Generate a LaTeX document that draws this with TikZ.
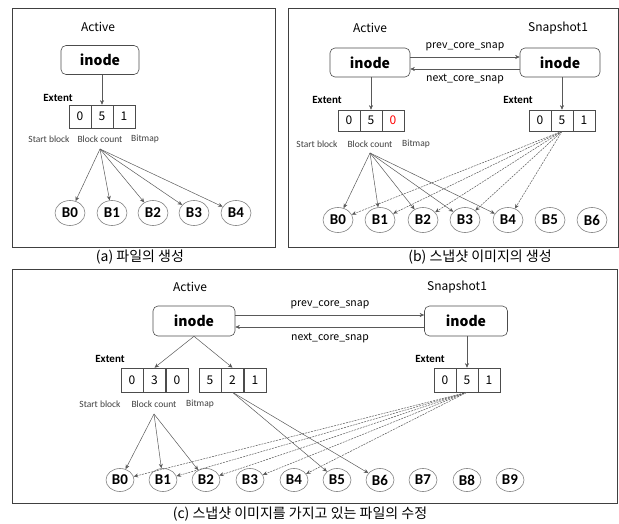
\documentclass[tikz,border=0pt]{standalone}
\usepackage{fontspec}
\setmainfont{Carlito}
\newfontfamily\krfont{Noto Sans CJK KR}
\usetikzlibrary{arrows.meta,shapes.geometric}

\tikzset{
  panel/.style={draw=black!75, line width=0.8pt},
  owner/.style={font=\krfont\fontsize{12}{12}\selectfont},
  inodebox/.style={draw=black!70, rounded corners=5pt, line width=0.6pt,
    minimum width=78pt, minimum height=29pt, inner sep=0pt,
    font=\krfont\bfseries\fontsize{14}{14}\selectfont},
  cell/.style={draw=black!70, line width=0.6pt, minimum width=22pt, minimum height=23pt,
    inner sep=0pt, font=\krfont\fontsize{12}{12}\selectfont},
  blk/.style={ellipse, draw=black!50, line width=0.6pt, minimum width=30pt,
    minimum height=25pt, inner sep=0pt, font=\bfseries\fontsize{15}{15}\selectfont},
  fieldlbl/.style={font=\fontsize{9.5}{10}\selectfont, text=black!75},
  extlbl/.style={font=\bfseries\fontsize{11}{11}\selectfont},
  linklbl/.style={font=\krfont\fontsize{10.5}{11}\selectfont},
  ptr/.style={draw=black!65, line width=0.5pt, -{Stealth[length=4.5pt,width=4pt]}},
  snapptr/.style={ptr, dash pattern=on 2pt off 1pt},
  captext/.style={font=\krfont\fontsize{14}{14}\selectfont},
}

\begin{document}
\begin{tikzpicture}[x=1pt,y=-1pt]
\useasboundingbox (0,0) rectangle (619,524);

% ---------------- (a) file creation ----------------
\draw[panel] (12,8) rectangle (275,247);
\node[owner] (aact) at (98,27) {Active};
\node[inodebox] (ai) at (100,60) {inode};
\node[extlbl] (aext) at (58,98) {Extent};
\node[cell] (a0) at (80,116.5) {0};
\node[cell] (a1) at (102,116.5) {5};
\node[cell] (a2) at (124,116.5) {1};
\draw[ptr] (a1.north |- ai.south) -- (a1.north);
\node[fieldlbl] (asb) at (49,139) {Start block};
\node[fieldlbl] (abc) at (100,139) {Block count};
\node[fieldlbl] (abm) at (145,139) {Bitmap};
\coordinate (afan) at (100,149);
\foreach \i/\x in {0/70,1/112,2/153,3/194,4/236}{
  \node[blk] (ab\i) at (\x,213) {B\i};
  \draw[ptr] (afan) -- (ab\i);
}
\node[captext] (acap) at (140,257) {(a) 파일의 생성};

% ---------------- (b) snapshot creation ----------------
\draw[panel] (288,8) rectangle (618,247);
\node[owner] (bact) at (370,28) {Active};
\node[owner] (bsnap) at (558,28) {Snapshot1};
\node[inodebox, minimum width=80pt] (bil) at (370,62.5) {inode};
\node[inodebox, minimum width=80pt] (bir) at (560,62.5) {inode};
\draw[ptr] ([yshift=5.5pt]bil.east) -- ([yshift=5.5pt]bir.west);
\draw[ptr] ([yshift=-6.5pt]bir.west) -- ([yshift=-6.5pt]bil.east);
\node[linklbl] (bprev) at (465,47) {prev\_core\_snap};
\node[linklbl] (bnext) at (465,79) {next\_core\_snap};
\node[extlbl] (bextl) at (327,100) {Extent};
\node[cell, minimum height=21pt] (bl0) at (349,120.5) {0};
\node[cell, minimum height=21pt] (bl1) at (371,120.5) {5};
\node[cell, minimum height=21pt, text=red] (bl2) at (393,120.5) {0};
\node[extlbl] (bextr) at (518,100) {Extent};
\node[cell, minimum height=21pt] (br0) at (540,120.5) {0};
\node[cell, minimum height=21pt] (br1) at (562,120.5) {5};
\node[cell, minimum height=21pt] (br2) at (584,120.5) {1};
\draw[ptr] (bl1.north |- bil.south) -- (bl1.north);
\draw[ptr] (br1.north |- bir.south) -- (br1.north);
\node[fieldlbl] (bsb) at (317,144) {Start block};
\node[fieldlbl] (bbc) at (370,144) {Block count};
\node[fieldlbl] (bbm) at (416,144) {Bitmap};
\coordinate (bfan) at (370,153);
\foreach \i/\x in {0/338,1/380,2/423,3/465,4/508,5/550,6/592}{
  \node[blk] (bb\i) at (\x,220) {B\i};
}
\foreach \i in {0,...,4}{
  \draw[ptr] (bfan) -- (bb\i);
  \draw[snapptr] (br1.south) -- (bb\i);
}
\node[captext] (bcap) at (480,257) {(b) 스냅샷 이미지의 생성};

% ---------------- (c) modifying a file that has a snapshot ----------------
\draw[panel] (12,269) rectangle (617,503);
\node[owner] (cact) at (190,287) {Active};
\node[owner] (csnap) at (457,287) {Snapshot1};
\node[inodebox, minimum width=82pt, minimum height=30pt] (cil) at (194,321) {inode};
\node[inodebox, minimum width=83pt, minimum height=30pt] (cir) at (466,321) {inode};
\draw[ptr] ([yshift=6pt]cil.east) -- ([yshift=6pt]cir.west);
\draw[ptr] ([yshift=-6pt]cir.west) -- ([yshift=-6pt]cil.east);
\node[linklbl] (cprev) at (330,305) {prev\_core\_snap};
\node[linklbl] (cnext) at (330,338) {next\_core\_snap};
\node[extlbl] (cextl) at (110,359) {Extent};
\node[cell, minimum height=24pt] (c00) at (132,380) {0};
\node[cell, minimum height=24pt] (c01) at (154.5,380) {3};
\node[cell, minimum height=24pt] (c02) at (177,380) {0};
\node[cell, minimum height=24pt] (c10) at (210,380) {5};
\node[cell, minimum height=24pt] (c11) at (232.5,380) {2};
\node[cell, minimum height=24pt] (c12) at (255,380) {1};
\draw[ptr] (cil.south) -- (c01.north);
\draw[ptr] (cil.south) -- (c11.north);
\node[extlbl] (cextr) at (430,359) {Extent};
\node[cell, minimum height=24pt] (cr0) at (445,380) {0};
\node[cell, minimum height=24pt] (cr1) at (467,380) {5};
\node[cell, minimum height=24pt] (cr2) at (489,380) {1};
\draw[ptr] (cr1.north |- cir.south) -- (cr1.north);
\node[fieldlbl] (csb) at (100,404) {Start block};
\node[fieldlbl] (cbc) at (154,404) {Block count};
\node[fieldlbl] (cbm) at (200,404) {Bitmap};
\coordinate (cfan) at (154,414);
\foreach \i/\x in {0/120,1/163,2/206,3/250,4/294,5/337,6/380,7/423,8/467,9/510}{
  \node[blk, minimum width=28pt, minimum height=23pt] (cb\i) at (\x,480) {B\i};
}
\foreach \i in {0,1,2}{ \draw[ptr] (cfan) -- (cb\i); }
\foreach \i in {5,6}{ \draw[ptr] (c11.south) -- (cb\i); }
\foreach \i in {0,...,4}{ \draw[snapptr] (cr1.south) -- (cb\i); }
\node[captext] (ccap) at (300,514) {(c) 스냅샷 이미지를 가지고 있는 파일의 수정};
\end{tikzpicture}
\end{document}
